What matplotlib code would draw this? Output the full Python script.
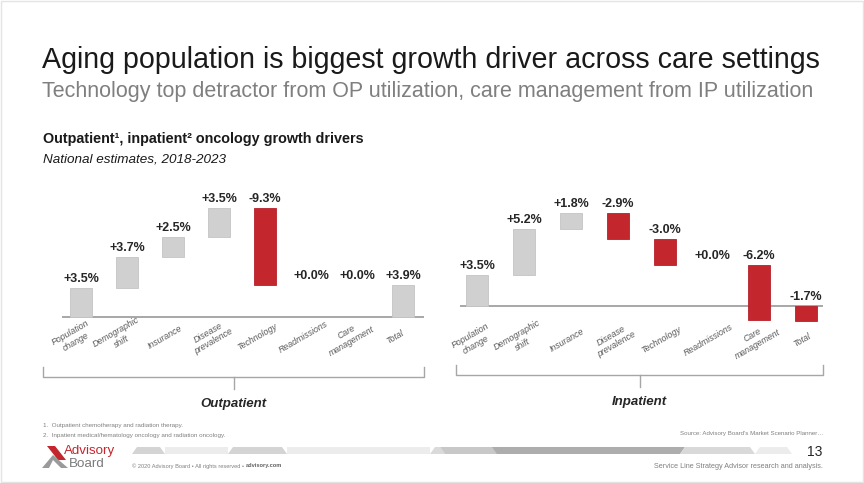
import matplotlib
matplotlib.use('Agg')
import matplotlib.pyplot as plt
from matplotlib.patches import Polygon, Rectangle

plt.rcParams['font.family'] = ['Liberation Sans', 'DejaVu Sans']

W, H = 864, 483

# growth drivers, same order for both settings
drivers = ['Population\nchange', 'Demographic\nshift', 'Insurance', 'Disease\nprevalence',
           'Technology', 'Readmissions', 'Care\nmanagement', 'Total']
op_values = [3.5, 3.7, 2.5, 3.5, -9.3, 0.0, 0.0]
op_total = 3.9
ip_values = [3.5, 5.2, 1.8, -2.9, -3.0, 0.0, -6.2]
ip_total = -1.7

GREY = '#d0d0d0'
RED = '#c4262e'
DARK = '#262626'
MID = '#808080'

fig = plt.figure(figsize=(W / 100, H / 100), dpi=100)

# full-slide overlay in pixel coords for text and decoration
bg = fig.add_axes([0, 0, 1, 1])
bg.set_xlim(0, W)
bg.set_ylim(H, 0)
bg.axis('off')
bg.add_patch(Rectangle((0.5, 0.5), W - 1.5, H - 1.5, fill=False, ec='#e4e4e4', lw=1))


def px_axes(left, right, top, bottom):
    return fig.add_axes([left / W, 1 - bottom / H, (right - left) / W, (bottom - top) / H])


def waterfall(ax, values, total, label_dx, label_y):
    cum = 0.0
    n = len(values)
    for i, v in enumerate(values):
        lo, hi = min(cum, cum + v), max(cum, cum + v)
        if v != 0:
            ax.bar(i, hi - lo, bottom=lo, width=0.48, color=RED if v < 0 else GREY,
                   edgecolor='#b8202a' if v < 0 else '#c4c4c4', lw=0.6, zorder=3)
        ax.annotate(f'{v:+.1f}%', (i, hi), xytext=(0, 3), textcoords='offset pixels',
                    ha='center', va='bottom', fontsize=9, fontweight='bold', color=DARK)
        cum += v
    ax.bar(n, abs(total), bottom=min(0, total), width=0.48,
           color=RED if total < 0 else GREY,
           edgecolor='#b8202a' if total < 0 else '#c4c4c4', lw=0.6, zorder=3)
    ax.annotate(f'{total:+.1f}%', (n, max(0, total)), xytext=(0, 3), textcoords='offset pixels',
                ha='center', va='bottom', fontsize=9, fontweight='bold', color=DARK)
    ax.axhline(0, color='#a0a0a0', lw=1.3, zorder=2)
    for i, name in enumerate(drivers):
        ax.annotate(name, (i, H - label_y), xycoords=('data', 'figure pixels'),
                    xytext=(label_dx, 0), textcoords='offset pixels',
                    ha='center', va='center', rotation=30, rotation_mode='anchor',
                    multialignment='center', fontsize=6.3, style='italic', color='#595959',
                    annotation_clip=False)
    ax.axis('off')


# outpatient panel
ax1 = px_axes(62, 424, 197, 342)
ax1.set_xlim(-0.413, 7.457)
ax1.set_ylim(-3, 14.5)
waterfall(ax1, op_values, op_total, -8, 337)

# inpatient panel
ax2 = px_axes(460, 823, 200, 341)
ax2.set_xlim(-0.362, 7.362)
ax2.set_ylim(-4, 12)
waterfall(ax2, ip_values, ip_total, -4, 340)


def bracket(x0, x1, y, name):
    xm = (x0 + x1) / 2
    bg.plot([x0, x0, x1, x1], [y - 10, y, y, y - 10], color='#a6a6a6', lw=1)
    bg.plot([xm, xm], [y, y + 12], color='#a6a6a6', lw=1)
    bg.text(xm, y + 27, name, ha='center', va='center', fontsize=9.5,
            fontweight='bold', style='italic', color=DARK)


bracket(43, 424, 377, 'Outpatient')
bracket(456, 823, 375, 'Inpatient')

# titles
bg.text(42, 68, 'Aging population is biggest growth driver across care settings',
        fontsize=20.6, color='#1a1a1a', va='baseline')
bg.text(42, 97, 'Technology top detractor from OP utilization, care management from IP utilization',
        fontsize=15.5, color='#7f7f7f', va='baseline')
bg.text(43, 143, 'Outpatient\u00b9, inpatient\u00b2 oncology growth drivers',
        fontsize=10.4, fontweight='bold', color='#1a1a1a', va='baseline')
bg.text(43, 162, 'National estimates, 2018-2023', fontsize=9.7, style='italic',
        color='#1a1a1a', va='baseline')

# footnotes and footer
bg.text(43, 425, '1.  Outpatient chemotherapy and radiation therapy.',
        fontsize=4.5, color=MID, va='center')
bg.text(43, 435, '2.  Inpatient medical/hematology oncology and radiation oncology.',
        fontsize=4.5, color=MID, va='center')
bg.text(823, 434, "Source: Advisory Board\u2019s Market Scenario Planner\u2026",
        fontsize=4.4, color=MID, va='center', ha='right')
bg.text(822, 452, '13', fontsize=10, color=DARK, va='center', ha='right')
bg.text(823, 467, 'Service Line Strategy Advisor research and analysis.',
        fontsize=5.2, color=MID, va='center', ha='right')
copy = bg.text(132, 466, '\u00a9 2020 Advisory Board \u2022 All rights reserved \u2022 ',
               fontsize=4.1, color=MID, va='center')
bg.annotate('advisory.com', xy=(1, 0.5), xycoords=copy, fontsize=4.1, color='#606060',
            fontweight='bold', va='center', ha='left')

# stripe band
stripes = [(132, 165, '#d4d4d4', 1), (165, 228, '#ececec', 0), (228, 287, '#d4d4d4', 1),
           (287, 430, '#ececec', 0), (430, 445, '#dadada', 1), (445, 497, '#c8c8c8', -1),
           (497, 680, '#adadad', -1), (680, 755, '#d9d9d9', 1), (755, 792, '#ececec', 1)]
for x0, x1, c, k in stripes:
    s = 5 * k
    bg.add_patch(Polygon([(x0, 454), (x0 + s, 447), (x1 - s, 447), (x1, 454)],
                         closed=True, fc=c, ec='none'))

# logo
bg.add_patch(Polygon([(47, 446), (55, 446), (66, 460), (58, 460)], closed=True, fc=RED, ec='none'))
bg.add_patch(Polygon([(42, 468), (53, 455), (68, 468), (61, 468), (53, 460), (49, 468)],
                     closed=True, fc='#9a9a9a', ec='none'))
bg.text(64, 451, 'Advisory', fontsize=9.6, color=RED, va='center')
bg.text(69, 464, 'Board', fontsize=9.6, color='#7a7a7a', va='center')

fig.savefig('out.png', dpi=100)
